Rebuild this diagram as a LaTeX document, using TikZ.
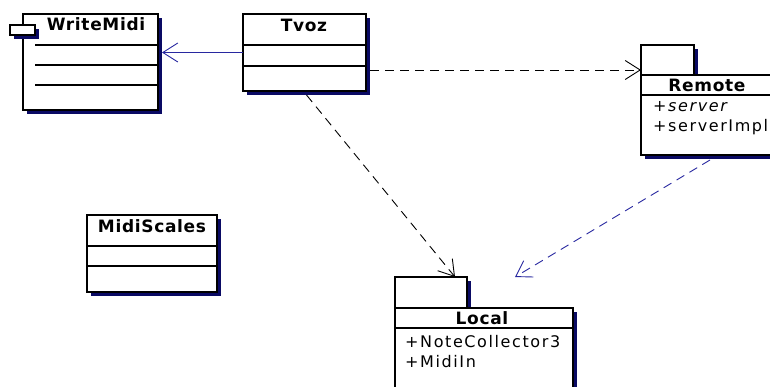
\documentclass[tikz,border=0pt]{standalone}
\usepackage{fontspec}
\setmainfont{DejaVu Sans}
\newfontfamily\umltitle{DejaVu Sans}[LetterSpace=4]
\newfontfamily\umlattr{DejaVu Sans}[LetterSpace=10]
\usetikzlibrary{arrows.meta,shadows}
\definecolor{umlnavy}{RGB}{10,10,100}
\definecolor{umlblue}{RGB}{40,40,160}

\begin{document}
\begin{tikzpicture}[x=1pt,y=-1pt,
    classbox/.style={draw, line width=1.2pt, fill=white, anchor=north west,
        inner sep=0pt, outer sep=0pt,
        drop shadow={shadow xshift=4pt,shadow yshift=-4pt,fill=umlnavy,opacity=1}},
    title/.style={anchor=base, inner sep=0pt, font=\umltitle\bfseries\fontsize{17}{19}\selectfont},
    member/.style={anchor=base west, inner sep=0pt, font=\umlattr\fontsize{16}{18}\selectfont},
    sep/.style={line width=1.2pt},
    dep/.style={line width=0.9pt, dash pattern=on 9pt off 6pt, -{Straight Barb[length=15pt,width=19pt]}},
    assoc/.style={line width=0.9pt, umlblue, -{Straight Barb[length=15pt,width=19pt]}}]
    \useasboundingbox (0,0) rectangle (770,387);
    \clip (0,0) rectangle (770,387);

    % classes
    \node[classbox, minimum width=135pt, minimum height=96pt] (writemidi) at (23,14) {};
    \node[classbox, minimum width=25pt, minimum height=10pt] (writemidiicon) at (10,25) {};
    \node[title] at (96,31) {WriteMidi};
    \draw[sep] (35,45) -- (158,45);
    \draw[sep] (35,65) -- (158,65);
    \draw[sep] (35,85) -- (158,85);

    \node[classbox, minimum width=123pt, minimum height=77pt] (tvoz) at (243,14) {};
    \node[title] at (304,32) {Tvoz};
    \draw[sep] (243,45) -- (366,45);
    \draw[sep] (243,66) -- (366,66);

    \node[classbox, minimum width=130pt, minimum height=77pt] (midiscales) at (87,215) {};
    \node[title] at (152,233) {MidiScales};
    \draw[sep] (87,246) -- (217,246);
    \draw[sep] (87,266) -- (217,266);

    % packages
    \node[classbox, minimum width=53pt, minimum height=30pt] (remotetab) at (641,45) {};
    \node[classbox, minimum width=132pt, minimum height=80pt] (remote) at (641,75) {};
    \node[title] at (707,92) {Remote};
    \draw[sep] (641,95) -- (773,95);
    \node[member] at (653,112) {\itshape +server};
    \node[member] at (653,132) {+serverImpl};

    \node[classbox, minimum width=72pt, minimum height=31pt] (localtab) at (395,277) {};
    \node[classbox, minimum width=178pt, minimum height=100pt] (local) at (395,308) {};
    \node[title] at (482,324) {Local};
    \draw[sep] (395,328) -- (573,328);
    \node[member] at (405,347) {+NoteCollector3};
    \node[member] at (405,367) {+MidiIn};

    % connectors
    \draw[assoc] (tvoz.west) -- ([xshift=4pt]tvoz.west -| writemidi.east);
    \coordinate (tvozout) at ([shift={(4,17.5)}]tvoz.east);
    \draw[dep] (tvozout) -- (tvozout -| remotetab.west);
    \draw[dep] ([shift={(2,4)}]tvoz.south) -- ([xshift=-12pt]localtab.north east);
    \draw[dep, umlblue] ([shift={(3,5)}]remote.south) -- ([xshift=48pt]localtab.north east);
\end{tikzpicture}
\end{document}
